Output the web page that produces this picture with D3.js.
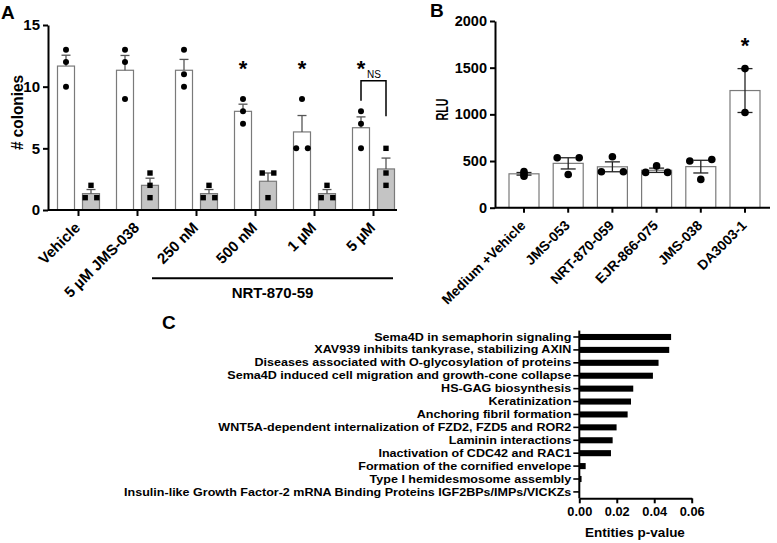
<!DOCTYPE html>
<html><head><meta charset="utf-8">
<script src="https://cdn.jsdelivr.net/npm/d3@7/dist/d3.min.js"></script>
<style>
html,body{margin:0;padding:0;background:#fff;}
svg{display:block;font-family:"Liberation Sans",Arial,Helvetica,sans-serif;}
</style></head>
<body>
<svg id="fig" width="777" height="543"></svg>
<script>
// ---------- Panel A data ----------
const aGroups = ["Vehicle","5 µM JMS-038","250 nM","500 nM","1 µM","5 µM"];
const aWhiteMean = [11.67,11.33,11.33,8,6.33,6.67];
const aWhiteSEM = [0.88,1.2,0.88,0.58,1.33,0.88];
const aWhiteReps = [[13,12,10],[13,12,9],[13,11,10],[9,8,7],[9,5,5],[8,7,5]];
const aGreyMean = [1.33,2,1.33,2.33,1.33,3.33];
const aGreySEM = [0.33,0.58,0.33,0.67,0.33,0.88];
const aGreyReps = [[2,1,1],[3,2,1],[2,1,1],[3,3,1],[2,1,1],[5,3,2]];
const aStarGroups = ["500 nM","1 µM","5 µM"];
const aYTicks = [0,5,10,15];
const aBracketGroups = ["250 nM","5 µM"];

// ---------- Panel B data ----------
const bGroups = ["Medium +Vehicle","JMS-053","NRT-870-059","EJR-866-075","JMS-038","DA3003-1"];
const bMean = [363,475,438,401,440,1255];
const bSEM = [14,60,53,23,68,235];
const bReps = [[388,362,338],[535,535,355],[545,385,385],[448,378,378],[500,516,303],[1490,1020]];
const bStarGroups = ["DA3003-1"];
const bYTicks = [0,500,1000,1500,2000];

// ---------- Panel C data ----------
const cTerms = ["Sema4D in semaphorin signaling","XAV939 inhibits tankyrase, stabilizing AXIN","Diseases associated with O-glycosylation of proteins","Sema4D induced cell migration and growth-cone collapse","HS-GAG biosynthesis","Keratinization","Anchoring fibril formation","WNT5A-dependent internalization of FZD2, FZD5 and ROR2","Laminin interactions","Inactivation of CDC42 and RAC1","Formation of the cornified envelope","Type I hemidesmosome assembly","Insulin-like Growth Factor-2 mRNA Binding Proteins IGF2BPs/IMPs/VICKZs"];
const cValues = [0.049,0.048,0.0423,0.0393,0.0288,0.0276,0.0258,0.0199,0.0178,0.0169,0.0034,0.0012,0.0002];
const cXTicks = [0,0.02,0.04,0.06];

const svg = d3.select("#fig");

function swarm(vals, y, thr, step){
  const idx = vals.map((v,i)=>i).sort((a,b)=>vals[a]-vals[b]);
  const off = new Array(vals.length).fill(0);
  let cl = [idx[0]];
  const flush = () => { const k = cl.length; cl.forEach((j,i)=>{ off[j] = (i-(k-1)/2)*step; }); };
  for(let t=1;t<idx.length;t++){
    const prev = cl[cl.length-1];
    if(Math.abs(y(vals[idx[t]])-y(vals[prev])) < thr) cl.push(idx[t]);
    else { flush(); cl=[idx[t]]; }
  }
  flush();
  return off;
}
function styleAxis(g){
  g.selectAll("line").attr("stroke","#000").attr("stroke-width",2);
  g.selectAll("path.domain").attr("stroke","#000").attr("stroke-width",2);
  g.selectAll("text").attr("fill","#000").attr("font-weight","bold");
}

// ================= Panel A =================
(function(){
  const y = d3.scaleLinear().domain([0,15]).range([210,25]);
  const x = d3.scaleBand().domain(aGroups).range([49,403]).padding(0);
  const off = 12.5, bw = 17;
  const g = svg.append("g");

  aGroups.forEach((grp,i)=>{
    const cx = x(grp)+x.bandwidth()/2;
    [[cx-off,aWhiteMean[i],aWhiteSEM[i],aWhiteReps[i],"#fff","circle"],
     [cx+off,aGreyMean[i],aGreySEM[i],aGreyReps[i],"#c4c4c4","square"]].forEach(([bx,m,s,reps,fill,shape])=>{
      g.append("rect").attr("x",bx-bw/2).attr("y",y(m)).attr("width",bw).attr("height",y(0)-y(m))
        .attr("fill",fill).attr("stroke","#7a7a7a").attr("stroke-width",1.2);
      g.append("line").attr("x1",bx).attr("x2",bx).attr("y1",y(m)).attr("y2",y(m+s)).attr("stroke","#555").attr("stroke-width",1.3);
      g.append("line").attr("x1",bx-4.5).attr("x2",bx+4.5).attr("y1",y(m+s)).attr("y2",y(m+s)).attr("stroke","#555").attr("stroke-width",1.3);
      const o = swarm(reps,y,2,11.6);
      reps.forEach((v,k)=>{
        if(shape==="circle") g.append("circle").attr("cx",bx+o[k]).attr("cy",y(v)).attr("r",3).attr("fill","#000");
        else g.append("rect").attr("x",bx+o[k]-2.7).attr("y",y(v)-2.7).attr("width",5.4).attr("height",5.4).attr("fill","#000");
      });
    });
  });

  const ya = g.append("g").attr("transform","translate(48,0)")
    .call(d3.axisLeft(y).tickValues(aYTicks).tickSize(5).tickPadding(3).tickSizeOuter(0));
  styleAxis(ya); ya.selectAll("text").attr("font-size",15);
  const xa = g.append("g").attr("transform","translate(0,210)")
    .call(d3.axisBottom(x).tickSize(6).tickFormat(""));
  styleAxis(xa); xa.select("path.domain").attr("d","M48,0H397");
  aGroups.forEach(grp=>{
    const tx = x(grp)+x.bandwidth()/2;
    g.append("text").attr("transform",`translate(${tx-1},225) rotate(-45)`).attr("text-anchor","end")
      .attr("dy","0.35em").attr("font-size",15).attr("font-weight","bold").text(grp);
  });
  g.append("text").attr("transform","translate(23,112.5) rotate(-90)").attr("text-anchor","middle")
    .attr("font-size",16.5).attr("font-weight","bold").attr("textLength",75).attr("lengthAdjust","spacingAndGlyphs").text("# colonies");
  aStarGroups.forEach(grp=>{
    const tx = x(grp)+x.bandwidth()/2-off;
    g.append("text").attr("x",tx).attr("y",75.5).attr("text-anchor","middle").attr("font-size",22).attr("font-weight","bold").text("*");
  });
  const sx = x("5 µM")+x.bandwidth()/2;
  g.append("path").attr("d",`M${sx-off},${y(6.67+0.88+1.3)}V80.7H${sx+off}V${y(3.33+0.88+3.4)}`)
    .attr("fill","none").attr("stroke","#000").attr("stroke-width",1.5);
  g.append("text").attr("x",sx+0.5).attr("y",78).attr("text-anchor","middle").attr("font-size",10).text("NS");
  const l0 = x(aBracketGroups[0])-15, l1 = x(aBracketGroups[1])+x.bandwidth()-10;
  g.append("line").attr("x1",l0).attr("x2",l1).attr("y1",278.3).attr("y2",278.3).attr("stroke","#000").attr("stroke-width",2);
  g.append("text").attr("x",(l0+l1)/2).attr("y",298).attr("text-anchor","middle").attr("font-size",15).attr("font-weight","bold").text("NRT-870-59");
  g.append("text").attr("x",1).attr("y",18.5).attr("font-size",19).attr("font-weight","bold").text("A");
})();

// ================= Panel B =================
(function(){
  const y = d3.scaleLinear().domain([0,2000]).range([207.7,21]);
  const x = d3.scaleBand().domain(bGroups).range([501.9,767.1]).padding(0);
  const bw = 30;
  const g = svg.append("g");
  bGroups.forEach((grp,i)=>{
    const bx = x(grp)+x.bandwidth()/2;
    const m = bMean[i], s = bSEM[i];
    g.append("rect").attr("x",bx-bw/2).attr("y",y(m)).attr("width",bw).attr("height",y(0)-y(m))
      .attr("fill","#fff").attr("stroke","#7a7a7a").attr("stroke-width",1.2);
    g.append("line").attr("x1",bx).attr("x2",bx).attr("y1",y(m-s)).attr("y2",y(m+s)).attr("stroke","#222").attr("stroke-width",1.3);
    [m-s,m+s].forEach(v=>g.append("line").attr("x1",bx-7.5).attr("x2",bx+7.5).attr("y1",y(v)).attr("y2",y(v)).attr("stroke","#222").attr("stroke-width",1.3));
    const o = swarm(bReps[i],y,2,22);
    bReps[i].forEach((v,k)=>g.append("circle").attr("cx",bx+o[k]).attr("cy",y(v)).attr("r",3.8).attr("fill","#000"));
  });
  const ya = g.append("g").attr("transform","translate(495,0)")
    .call(d3.axisLeft(y).tickValues(bYTicks).tickFormat(d3.format("d")).tickSize(5).tickPadding(3).tickSizeOuter(0));
  styleAxis(ya); ya.selectAll("text").attr("font-size",14.5);
  const xa = g.append("g").attr("transform","translate(0,207.7)")
    .call(d3.axisBottom(x).tickSize(5).tickFormat(""));
  styleAxis(xa); xa.select("path.domain").attr("d","M495,0H770");
  bGroups.forEach(grp=>{
    const tx = x(grp)+x.bandwidth()/2;
    g.append("text").attr("transform",`translate(${tx-1},223) rotate(-45)`).attr("text-anchor","end")
      .attr("dy","0.35em").attr("font-size",13.8).attr("font-weight","bold").text(grp);
  });
  g.append("text").attr("transform","translate(448,109.5) rotate(-90)").attr("text-anchor","middle")
    .attr("font-size",16).attr("font-weight","bold").attr("textLength",22).attr("lengthAdjust","spacingAndGlyphs").text("RLU");
  bStarGroups.forEach(grp=>{
    g.append("text").attr("x",x(grp)+x.bandwidth()/2).attr("y",52.5).attr("text-anchor","middle").attr("font-size",22).attr("font-weight","bold").text("*");
  });
  g.append("text").attr("x",430).attr("y",17).attr("font-size",19).attr("font-weight","bold").text("B");
})();

// ================= Panel C =================
(function(){
  const x = d3.scaleLinear().domain([0,0.06]).range([579.3,691.7]);
  const y = d3.scaleBand().domain(cTerms).range([330.6,498.3]).paddingInner(0.53).paddingOuter(0.26);
  const g = svg.append("g");
  g.selectAll("rect.cb").data(cTerms).join("rect")
    .attr("x",x(0)).attr("y",d=>y(d)).attr("height",y.bandwidth())
    .attr("width",(d,i)=>x(cValues[i])-x(0)).attr("fill","#000");
  const ya = g.append("g").attr("transform","translate(579.3,0)")
    .call(d3.axisLeft(y).tickSize(6).tickPadding(2).tickSizeOuter(0));
  styleAxis(ya);
  ya.selectAll("text").attr("font-size",11.2).each(function(){
    const len = this.getComputedTextLength();
    d3.select(this).attr("textLength",len*1.12).attr("lengthAdjust","spacingAndGlyphs");
  });
  ya.selectAll("line").attr("stroke-width",1.6);
  ya.select("path.domain").attr("d","M0,330.6V498.3");
  const xa = g.append("g").attr("transform","translate(0,498.3)")
    .call(d3.axisBottom(x).tickValues(cXTicks).tickFormat(d3.format(".2f")).tickSize(5).tickPadding(4).tickSizeOuter(0));
  styleAxis(xa); xa.selectAll("text").attr("font-size",12.8);
  g.append("text").attr("x",635).attr("y",537).attr("text-anchor","middle").attr("font-size",13.5).attr("font-weight","bold").text("Entities p-value");
  g.append("text").attr("x",162).attr("y",329).attr("font-size",19).attr("font-weight","bold").text("C");
})();
</script>
</body></html>
